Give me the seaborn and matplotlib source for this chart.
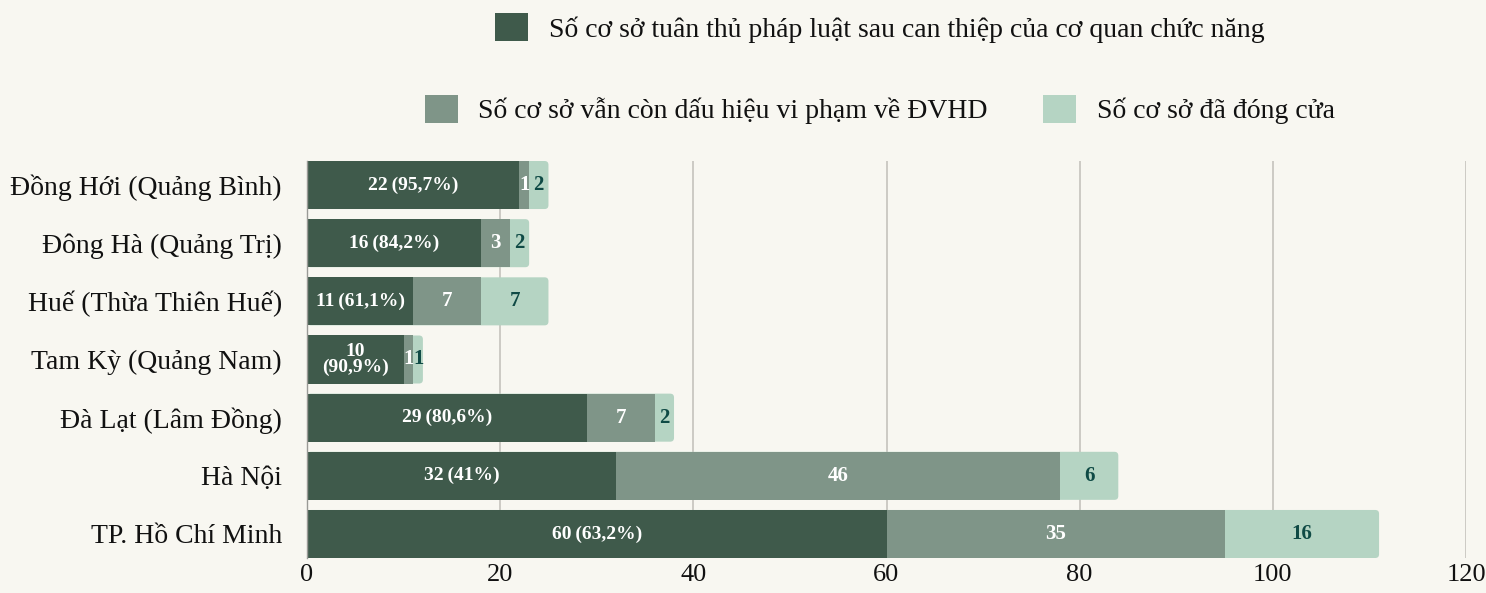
import matplotlib
matplotlib.use("Agg")
import matplotlib.pyplot as plt
from matplotlib.patches import Patch, FancyBboxPatch
import seaborn as sns
import pandas as pd
import numpy as np

cities = ["Đồng Hới (Quảng Bình)", "Đông Hà (Quảng Trị)", "Huế (Thừa Thiên Huế)",
          "Tam Kỳ (Quảng Nam)", "Đà Lạt (Lâm Đồng)", "Hà Nội", "TP. Hồ Chí Minh"]
# bar lengths as drawn in the reference
complied = [22, 18, 11, 10, 29, 32, 60]
violating = [1, 3, 7, 1, 7, 46, 35]
closed = [2, 2, 7, 1, 2, 6, 16]
complied_labels = ["22\u2009(95,7%)", "16\u2009(84,2%)", "11\u2009(61,1%)", "10\n(90,9%)",
                   "29\u2009(80,6%)", "32\u2009(41%)", "60\u2009(63,2%)"]
series_names = ["Số cơ sở tuân thủ pháp luật sau can thiệp của cơ quan chức năng",
                "Số cơ sở vẫn còn dấu hiệu vi phạm về ĐVHD",
                "Số cơ sở đã đóng cửa"]
x_ticks = [0, 20, 40, 60, 80, 100, 120]

c_dark, c_mid, c_light = "#3f5a4b", "#7f9588", "#b5d4c3"
bg = "#f8f7f1"

df = pd.DataFrame({"city": cities, "a": complied, "b": violating, "c": closed})
df["ab"] = df["a"] + df["b"]
df["abc"] = df["ab"] + df["c"]

sns.set_theme(style="white")
plt.rcParams["font.family"] = ["Liberation Serif", "DejaVu Serif"]

fig = plt.figure(figsize=(14.86, 5.93), dpi=100, facecolor=bg)
ax = fig.add_axes([307 / 1486, 1 - 558 / 593, (1466 - 307) / 1486, (558 - 161) / 593])
ax.set_facecolor(bg)

W = 0.826
sns.barplot(data=df, x="abc", y="city", color=c_light, saturation=1, width=W, ax=ax, zorder=2)
n_light = len(ax.patches)
sns.barplot(data=df, x="ab", y="city", color=c_mid, saturation=1, width=W, ax=ax, zorder=3)
sns.barplot(data=df, x="a", y="city", color=c_dark, saturation=1, width=W, ax=ax, zorder=4)

# round the right end of each full bar
for p in list(ax.patches[:n_light]):
    x0, y0 = p.get_x(), p.get_y()
    w, h = p.get_width(), p.get_height()
    p.remove()
    fb = FancyBboxPatch((x0, y0), w, h, boxstyle="round,pad=0,rounding_size=0.4",
                        mutation_aspect=0.166, facecolor=c_light, edgecolor="none", zorder=2)
    ax.add_patch(fb)
for p in ax.patches:
    p.set_edgecolor("none")

ax.set_xlim(0, 120)
ax.set_ylim(6.413, -0.413)
ax.set_xticks(x_ticks)
ax.set_xticklabels([str(t) for t in x_ticks])
ax.set_xlabel("")
ax.set_ylabel("")
ax.grid(axis="x", color="#c9c7c1", linewidth=1.3, zorder=0)
ax.set_axisbelow(True)
for s in ["top", "right", "bottom"]:
    ax.spines[s].set_visible(False)
ax.spines["left"].set_color("#9a9a96")
ax.spines["left"].set_linewidth(1.0)
ax.spines["left"].set_zorder(5)
ax.tick_params(axis="y", length=0, pad=18, labelsize=20, labelcolor="#111111")
ax.tick_params(axis="x", length=0, pad=4, labelsize=19, labelcolor="#111111")

for i in range(len(cities)):
    a, b, c = complied[i], violating[i], closed[i]
    ax.text(a / 2, i, complied_labels[i], ha="center", va="center", color="white",
            fontsize=14, fontweight="bold", zorder=6, linespacing=0.9)
    ax.text(a + b / 2, i, str(b), ha="center", va="center", color="white",
            fontsize=15, fontweight="bold", zorder=6)
    ax.text(a + b + c / 2, i, str(c), ha="center", va="center", color="#0f4a45",
            fontsize=15, fontweight="bold", zorder=6)

h1 = [Patch(facecolor=c_dark, edgecolor="none", label=series_names[0])]
h2 = [Patch(facecolor=c_mid, edgecolor="none", label=series_names[1]),
      Patch(facecolor=c_light, edgecolor="none", label=series_names[2])]
common = dict(frameon=False, fontsize=20, handlelength=1.19, handleheight=1.19,
              handletextpad=0.75, columnspacing=1.98, loc="center", labelcolor="#111111")
fig.legend(handles=h1, ncol=1, bbox_to_anchor=(0.592, 0.953), **common)
fig.legend(handles=h2, ncol=2, bbox_to_anchor=(0.592, 0.815), **common)

fig.savefig("out.png", dpi=100, facecolor=bg)
